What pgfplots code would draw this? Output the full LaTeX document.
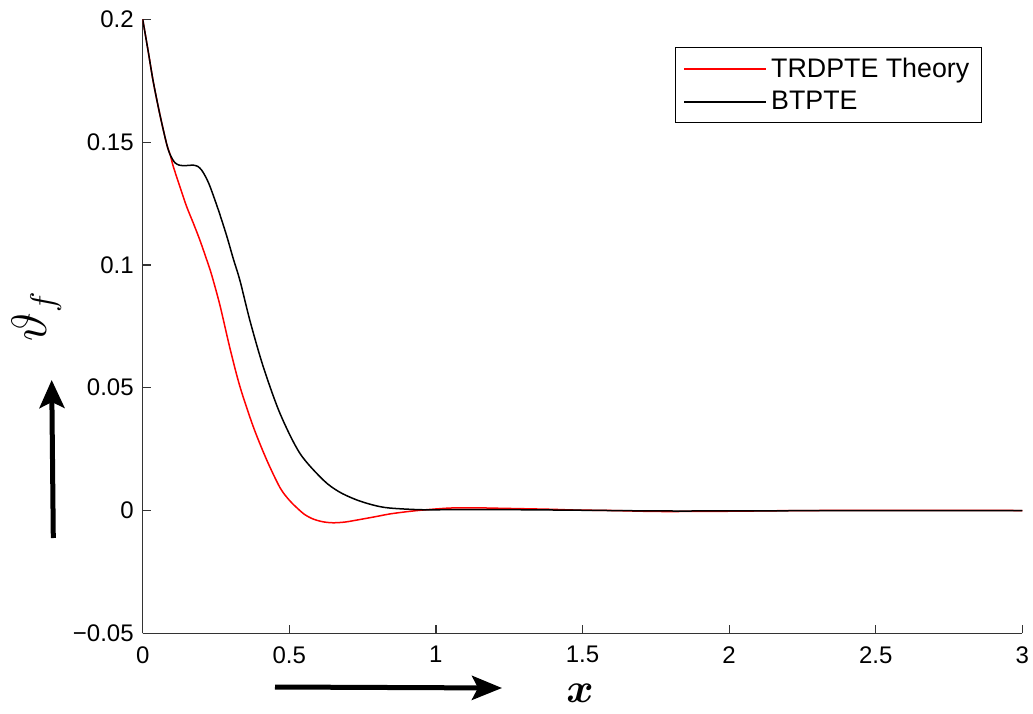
\documentclass[border=0pt]{standalone}
\usepackage{pgfplots}
\pgfplotsset{compat=1.18}
\usepackage{fontspec}
\setmainfont{Liberation Sans}
\usepackage{bm}
\usetikzlibrary{arrows.meta}

\pgfplotstableread{
x y
0 0.2
0.019 0.1868
0.036 0.1746
0.059 0.1610
0.082 0.1491
0.094 0.1448
0.104 0.1402
0.127 0.1318
0.150 0.1237
0.173 0.1169
0.195 0.1101
0.218 0.1022
0.235 0.0960
0.2636 0.0835
0.2977 0.0660
0.3318 0.0504
0.3772 0.0341
0.4229 0.0206
0.4683 0.0093
0.500 0.0042
0.525 0.0012
0.552 -0.0016
0.582 -0.0035
0.615 -0.0046
0.650 -0.0050
0.690 -0.0047
0.730 -0.0039
0.790 -0.0026
0.843 -0.0014
0.900 -0.0005
0.956 0.0002
1.048 0.0010
1.13 0.0011
1.22 0.0009
1.39 0.0005
1.47 0.0002
1.60 0.0000
1.76 -0.0004
2.00 -0.0003
2.30 0.0000
3.00 0.0000
}\redtab

\pgfplotstableread{
x y
0 0.2
0.019 0.1868
0.036 0.1746
0.059 0.1610
0.082 0.1491
0.095 0.1445
0.110 0.1416
0.125 0.1406
0.138 0.1404
0.155 0.1405
0.173 0.1406
0.188 0.1401
0.201 0.1386
0.215 0.1358
0.230 0.1318
0.258 0.1224
0.286 0.1120
0.309 0.1025
0.332 0.0935
0.366 0.0772
0.411 0.0586
0.468 0.0396
0.536 0.0233
0.616 0.0124
0.670 0.0076
0.730 0.0043
0.790 0.0021
0.843 0.0010
0.956 0.0003
1.10 0.0004
1.30 0.0003
1.50 0.0001
1.80 -0.0002
2.20 -0.0001
3.00 0.0000
}\blacktab

\begin{document}
\begin{tikzpicture}
\begin{axis}[
  scale only axis,
  width=439.8pt, height=307pt,
  xmin=0, xmax=3, ymin=-0.05, ymax=0.2,
  axis x line*=bottom, axis y line*=left,
  axis line style={black!80, line width=0.75pt},
  tick align=inside,
  major tick length=4pt,
  tick style={black!80, line width=0.6pt},
  xtick={0,0.5,1,1.5,2,2.5,3},
  xticklabels={0,0.5,1,1.5,2,2.5,3},
  ytick={-0.05,0,0.05,0.1,0.15,0.2},
  yticklabels={−0.05,0,0.05,0.1,0.15,0.2},
  /pgf/number format/assume math mode=true,
  ticklabel style={font=\fontsize{12}{14}\selectfont},
  xticklabel style={yshift=-3pt},
  yticklabel style={xshift=-1pt},
  legend style={at={(0.9542,0.9549)}, anchor=north east, draw=black,
    line width=0.75pt, fill=white, inner xsep=4pt, inner ysep=4.5pt,
    font=\fontsize{13.4}{15}\selectfont,
    nodes={inner xsep=2pt, inner ysep=0.5pt}, row sep=4.5pt},
  legend cell align=left,
  legend image code/.code={\draw[#1] (0pt,0pt) -- (41pt,0pt);},
]
\addplot[red, line width=0.75pt, smooth, tension=0.5] table[x=x,y=y] {\redtab};
\addlegendentry{TRDPTE Theory}
\addplot[black, line width=0.75pt, smooth, tension=0.5] table[x=x,y=y] {\blacktab};
\addlegendentry{BTPTE}
\coordinate (BL) at (rel axis cs:0,0);
\end{axis}
\node[rotate=90, inner sep=0pt] at ([xshift=-53pt, yshift=158.65pt]BL) {\fontsize{24}{28}\selectfont $\vartheta_f$};
\node[inner sep=0pt] at ([xshift=218.65pt, yshift=-30pt]BL) {\fontsize{22}{26}\selectfont $\bm{x}$};
\draw[line width=2.5pt, -{Stealth[length=14pt,width=12.5pt,inset=3pt]}]
  ([xshift=-44.7pt, yshift=47.65pt]BL) -- ([xshift=-45.5pt, yshift=126.65pt]BL);
\draw[line width=2.5pt, -{Stealth[length=15pt,width=12pt,inset=3pt]}]
  ([xshift=66.15pt, yshift=-26.85pt]BL) -- ([xshift=179.65pt, yshift=-27.35pt]BL);
\pgfresetboundingbox
\path ([xshift=-71.35pt, yshift=-39.85pt]BL) rectangle ++(516.5pt,356.5pt);
\end{tikzpicture}
\end{document}
